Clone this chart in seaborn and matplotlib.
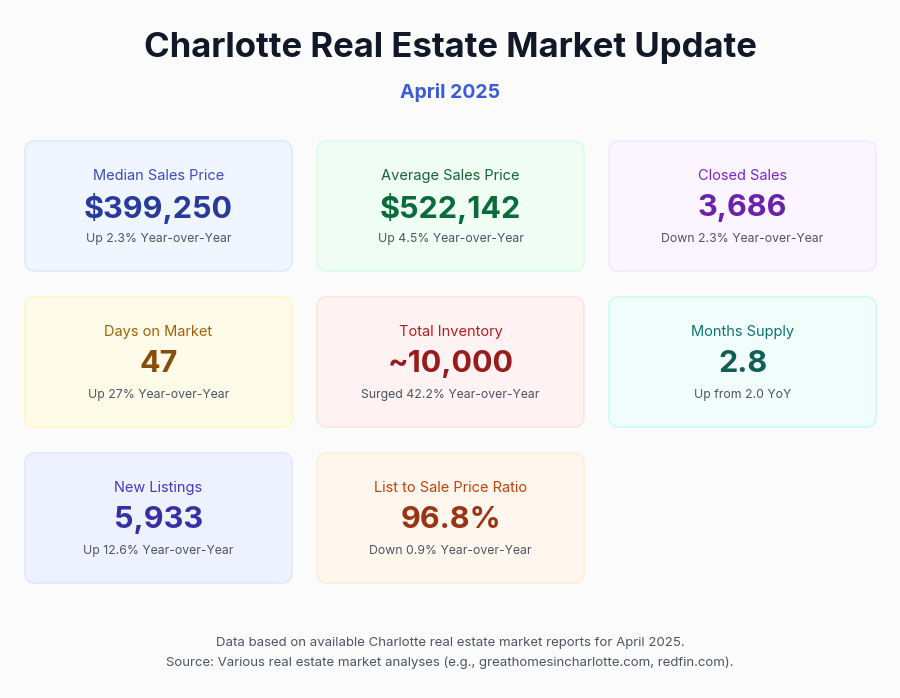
import matplotlib
matplotlib.use("Agg")
import matplotlib.pyplot as plt
import seaborn as sns
from matplotlib.patches import FancyBboxPatch

sns.set_theme(style="white", font="Inter")

labels = ["Median Sales Price", "Average Sales Price", "Closed Sales",
          "Days on Market", "Total Inventory", "Months Supply",
          "New Listings", "List to Sale Price Ratio"]
values = ["$399,250", "$522,142", "3,686", "47", "~10,000", "2.8", "5,933", "96.8%"]
changes = ["Up 2.3% Year-over-Year", "Up 4.5% Year-over-Year", "Down 2.3% Year-over-Year",
           "Up 27% Year-over-Year", "Surged 42.2% Year-over-Year", "Up from 2.0 YoY",
           "Up 12.6% Year-over-Year", "Down 0.9% Year-over-Year"]
bg = ["#eff6ff", "#f0fdf4", "#faf5ff", "#fefce8", "#fef2f2", "#f0fdfa", "#eef2ff", "#fff7ed"]
border = ["#dbeafe", "#dcfce7", "#f3e8ff", "#fef9c3", "#fee2e2", "#ccfbf1", "#e0e7ff", "#ffedd5"]
lab_c = ["#3b4cc0", "#166534", "#7e22ce", "#a16207", "#b91c1c", "#0f766e", "#4338ca", "#c2410c"]
val_c = ["#283a9a", "#0b6b3a", "#6b21a8", "#854d0e", "#991b1b", "#115e59", "#3730a3", "#9a3412"]

fig = plt.figure(figsize=(9, 6.98), dpi=100, facecolor="#fbfbfc")
ax = fig.add_axes([0, 0, 1, 1])
ax.set_xlim(0, 900)
ax.set_ylim(698, 0)
ax.axis("off")
ax.set_facecolor("#fbfbfc")

ax.text(450, 48, "Charlotte Real Estate Market Update", ha="center", va="center",
        fontsize=25, fontweight="bold", color="#111827")
ax.text(450, 93, "April 2025", ha="center", va="center",
        fontsize=14, fontweight="bold", color="#3b5bdb")

xs = [25, 317, 609]
ys = [141, 297, 453]
w, h = 267, 130
for i in range(len(labels)):
    x = xs[i % 3]
    y = ys[i // 3]
    ax.add_patch(FancyBboxPatch((x, y), w, h, boxstyle="round,pad=0,rounding_size=10",
                                facecolor=bg[i], edgecolor=border[i], linewidth=1.2))
    cx = x + w / 2
    ax.text(cx, y + 35, labels[i], ha="center", va="center", fontsize=10.5, color=lab_c[i])
    ax.text(cx, y + 67, values[i], ha="center", va="center", fontsize=22,
            fontweight="bold", color=val_c[i])
    ax.text(cx, y + 98, changes[i], ha="center", va="center", fontsize=8.8, color="#4b5563")

ax.text(450, 643, "Data based on available Charlotte real estate market reports for April 2025.",
        ha="center", va="center", fontsize=9.5, color="#4b5563")
ax.text(450, 663, "Source: Various real estate market analyses (e.g., greathomesincharlotte.com, redfin.com).",
        ha="center", va="center", fontsize=9.5, color="#4b5563")

fig.savefig("out.png", dpi=100, facecolor=fig.get_facecolor())
